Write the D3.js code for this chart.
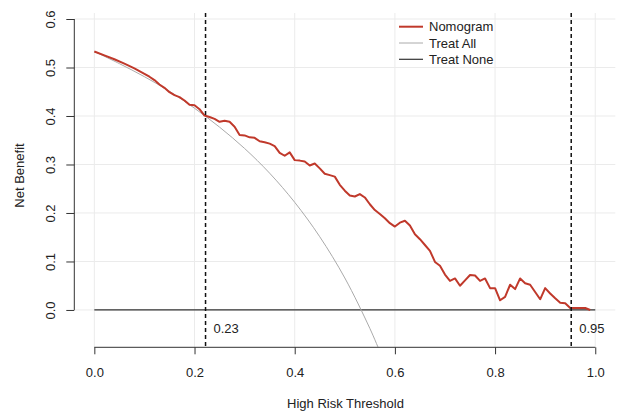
<!DOCTYPE html>
<html>
<head>
<meta charset="utf-8">
<script src="https://cdn.jsdelivr.net/npm/d3@7"></script>
<style>
  body { margin: 0; background: #ffffff; }
  svg { display: block; }
</style>
</head>
<body>
<div id="chart"></div>
<script>
// thresholds and net benefit
const nomoThresh = [0.00, 0.02, 0.04, 0.06, 0.08, 0.10, 0.11, 0.12, 0.13, 0.14,
  0.15, 0.16, 0.17, 0.18, 0.19, 0.20, 0.21, 0.22, 0.23, 0.24,
  0.25, 0.26, 0.27, 0.28, 0.29, 0.30, 0.31, 0.32, 0.33, 0.34,
  0.35, 0.36, 0.37, 0.38, 0.39, 0.40, 0.41, 0.42, 0.43, 0.44,
  0.45, 0.46, 0.47, 0.48, 0.49, 0.50, 0.51, 0.52, 0.53, 0.54,
  0.55, 0.56, 0.57, 0.58, 0.59, 0.60, 0.61, 0.62, 0.63, 0.64,
  0.65, 0.66, 0.67, 0.68, 0.69, 0.70, 0.71, 0.72, 0.73, 0.74,
  0.75, 0.76, 0.77, 0.78, 0.79, 0.80, 0.81, 0.82, 0.83, 0.84,
  0.85, 0.86, 0.87, 0.88, 0.89, 0.90, 0.91, 0.92, 0.93, 0.94,
  0.95, 0.96, 0.97, 0.98, 0.99];
const nomoBenefit = [0.533, 0.525, 0.517, 0.508, 0.498, 0.487, 0.481, 0.474, 0.465, 0.458,
  0.449, 0.443, 0.439, 0.432, 0.423, 0.422, 0.414, 0.401, 0.398, 0.394,
  0.388, 0.390, 0.388, 0.378, 0.361, 0.360, 0.356, 0.355, 0.348, 0.346,
  0.343, 0.338, 0.324, 0.318, 0.325, 0.309, 0.308, 0.306, 0.298, 0.302,
  0.292, 0.281, 0.278, 0.275, 0.258, 0.246, 0.236, 0.234, 0.239, 0.232,
  0.218, 0.206, 0.198, 0.189, 0.179, 0.172, 0.180, 0.184, 0.174, 0.156,
  0.146, 0.134, 0.122, 0.099, 0.091, 0.073, 0.060, 0.065, 0.050, 0.061,
  0.072, 0.071, 0.060, 0.065, 0.045, 0.045, 0.020, 0.027, 0.052, 0.043,
  0.065, 0.055, 0.052, 0.037, 0.022, 0.045, 0.034, 0.024, 0.015, 0.014,
  0.004, 0.004, 0.004, 0.004, 0.000];

const allThresh = [0.00, 0.05, 0.10, 0.15, 0.20, 0.25, 0.30, 0.35, 0.40, 0.45, 0.50, 0.55, 0.57];
const allBenefit = [0.533, 0.508, 0.481, 0.451, 0.416, 0.377, 0.333, 0.282, 0.222, 0.151, 0.066, -0.038, -0.086];

const noneThresh = [0, 1];
const noneBenefit = [0, 0];

const cutoffs = [0.222, 0.952];
const cutoffLabels = ["0.23", "0.95"];

const xTicks = [0, 0.2, 0.4, 0.6, 0.8, 1.0];
const yTicks = [0, 0.1, 0.2, 0.3, 0.4, 0.5, 0.6];

const seriesNames = ["Nomogram", "Treat All", "Treat None"];
const seriesColors = ["#c0392b", "#aaaaaa", "#333333"];
const seriesWidths = [2, 1, 1.2];

const W = 617, H = 411;
const font = "'Liberation Sans', Arial, Helvetica, sans-serif";

const plot = {left: 74.3, right: 615.3, top: 13, bottom: 347.3};

const svg = d3.select("#chart")
  .append("svg")
  .attr("width", W)
  .attr("height", H);

const x = d3.scaleLinear()
  .domain([-0.04, 1.04])
  .range([plot.left, plot.right]);

const y = d3.scaleLinear()
  .domain([-0.077, 0.6124])
  .range([plot.bottom, plot.top]);

svg.append("clipPath")
  .attr("id", "clip")
  .append("rect")
  .attr("x", plot.left)
  .attr("y", plot.top)
  .attr("width", plot.right - plot.left)
  .attr("height", plot.bottom - plot.top);

// grid
svg.append("g")
  .selectAll("line")
  .data(xTicks)
  .join("line")
  .attr("x1", d => x(d)).attr("x2", d => x(d))
  .attr("y1", plot.top).attr("y2", plot.bottom)
  .attr("stroke", "#ebebeb")
  .attr("stroke-width", 1);

svg.append("g")
  .selectAll("line")
  .data(yTicks)
  .join("line")
  .attr("x1", plot.left).attr("x2", plot.right)
  .attr("y1", d => y(d)).attr("y2", d => y(d))
  .attr("stroke", "#ebebeb")
  .attr("stroke-width", 1);

const lines = svg.append("g").attr("clip-path", "url(#clip)");

const line = d3.line()
  .x(d => x(d[0]))
  .y(d => y(d[1]));

// Treat None
lines.append("path")
  .datum(d3.zip(noneThresh, noneBenefit))
  .attr("fill", "none")
  .attr("stroke", seriesColors[2])
  .attr("stroke-width", seriesWidths[2])
  .attr("d", line);

// Treat All
lines.append("path")
  .datum(d3.zip(allThresh, allBenefit))
  .attr("fill", "none")
  .attr("stroke", seriesColors[1])
  .attr("stroke-width", seriesWidths[1])
  .attr("d", line.curve(d3.curveCatmullRom));

// Nomogram
lines.append("path")
  .datum(d3.zip(nomoThresh, nomoBenefit))
  .attr("fill", "none")
  .attr("stroke", seriesColors[0])
  .attr("stroke-width", seriesWidths[0])
  .attr("stroke-linejoin", "round")
  .attr("d", d3.line().x(d => x(d[0])).y(d => y(d[1])));

// cutoff lines
svg.append("g")
  .selectAll("line")
  .data(cutoffs)
  .join("line")
  .attr("x1", d => x(d)).attr("x2", d => x(d))
  .attr("y1", plot.top).attr("y2", plot.bottom)
  .attr("stroke", "#111111")
  .attr("stroke-width", 1.5)
  .attr("stroke-dasharray", "4,3");

svg.append("g")
  .selectAll("text")
  .data(cutoffs)
  .join("text")
  .attr("x", d => x(d) + 8)
  .attr("y", 333)
  .style("font-family", font)
  .style("font-size", "13px")
  .style("fill", "#222222")
  .text((d, i) => cutoffLabels[i]);

// X axis
const xAxis = svg.append("g")
  .attr("transform", `translate(0,${plot.bottom})`)
  .call(d3.axisBottom(x)
    .tickValues(xTicks)
    .tickFormat(d3.format(".1f"))
    .tickSize(7)
    .tickPadding(13));
xAxis.select(".domain").remove();
xAxis.append("line")
  .attr("x1", x(0)).attr("x2", x(1))
  .attr("stroke", "#333333");
xAxis.selectAll("line").attr("stroke", "#333333");
xAxis.selectAll("text")
  .style("font-family", font)
  .style("font-size", "13px")
  .style("fill", "#222222");

// Y axis
const yAxis = svg.append("g")
  .attr("transform", `translate(${plot.left},0)`)
  .call(d3.axisLeft(y)
    .tickValues(yTicks)
    .tickFormat(d3.format(".1f"))
    .tickSize(8));
yAxis.select(".domain").remove();
yAxis.append("line")
  .attr("y1", y(0)).attr("y2", y(0.6))
  .attr("stroke", "#333333");
yAxis.selectAll("line").attr("stroke", "#333333");
yAxis.selectAll("text")
  .attr("transform", "rotate(-90)")
  .attr("x", 0)
  .attr("y", -19.5)
  .attr("dy", null)
  .attr("text-anchor", "middle")
  .style("font-family", font)
  .style("font-size", "13px")
  .style("fill", "#222222");

// axis titles
svg.append("text")
  .attr("transform", "translate(24,175.5) rotate(-90)")
  .attr("text-anchor", "middle")
  .style("font-family", font)
  .style("font-size", "13px")
  .style("fill", "#222222")
  .text("Net Benefit");

svg.append("text")
  .attr("x", 345.5)
  .attr("y", 408)
  .attr("text-anchor", "middle")
  .style("font-family", font)
  .style("font-size", "13px")
  .style("fill", "#222222")
  .text("High Risk Threshold");

// legend
const legend = svg.append("g")
  .attr("transform", "translate(399,26.7)");

const items = legend.selectAll("g")
  .data(seriesNames)
  .join("g")
  .attr("transform", (d, i) => `translate(0,${i * 16.3})`);

items.append("line")
  .attr("x1", 0).attr("x2", 24)
  .attr("stroke", (d, i) => seriesColors[i])
  .attr("stroke-width", (d, i) => seriesWidths[i]);

items.append("text")
  .attr("x", 30)
  .attr("y", 4.7)
  .style("font-family", font)
  .style("font-size", "13px")
  .style("fill", "#222222")
  .text(d => d);
</script>
</body>
</html>
